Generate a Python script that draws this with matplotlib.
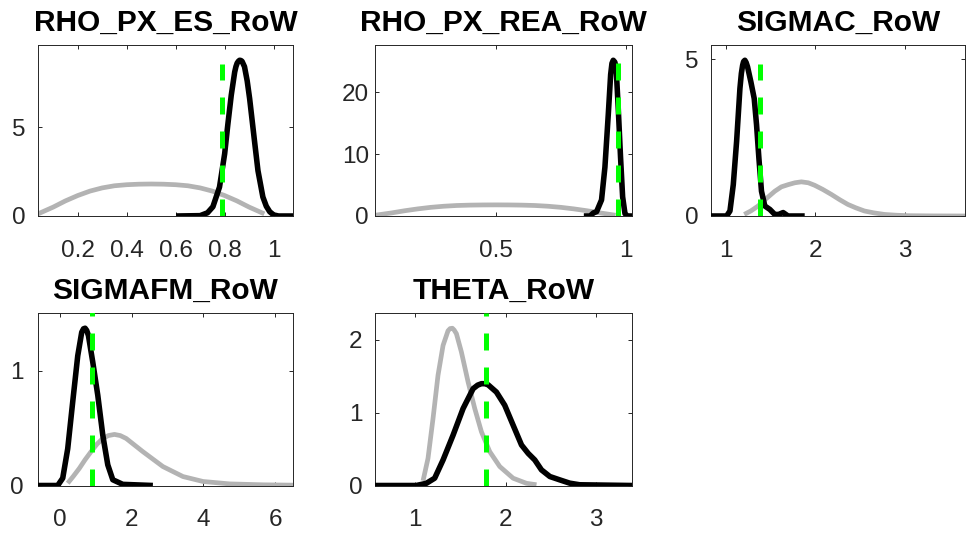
import matplotlib
matplotlib.use("Agg")
import matplotlib.pyplot as plt

plt.rcParams["font.family"] = ["Liberation Sans", "DejaVu Sans"]

# ---- data ----
titles = ["RHO_PX_ES_RoW", "RHO_PX_REA_RoW", "SIGMAC_RoW", "SIGMAFM_RoW", "THETA_RoW"]

# RHO_PX_ES_RoW
es_prior_x = [0.038, 0.1, 0.15, 0.2, 0.25, 0.3, 0.35, 0.4, 0.45, 0.5, 0.55, 0.6,
              0.65, 0.7, 0.75, 0.8, 0.85, 0.9, 0.962]
es_prior_y = [0.12, 0.50, 0.85, 1.15, 1.40, 1.58, 1.70, 1.76, 1.79, 1.80, 1.79, 1.76,
              1.70, 1.58, 1.40, 1.15, 0.85, 0.50, 0.12]
es_post_x = [0.602, 0.70, 0.73, 0.752, 0.779, 0.80, 0.813, 0.827, 0.841, 0.846, 0.851,
             0.856, 0.861, 0.866, 0.871, 0.881, 0.892, 0.902, 0.912, 0.922, 0.936,
             0.956, 0.970, 0.984, 1.0, 1.02, 1.079]
es_post_y = [0.0, 0.02, 0.18, 0.52, 1.63, 3.5, 5.15, 6.8, 8.1, 8.4, 8.6, 8.7, 8.76,
             8.75, 8.7, 8.4, 7.6, 6.6, 5.4, 4.2, 2.55, 1.07, 0.55, 0.24, 0.06, 0.0, 0.0]
es_mode = 0.789
es_mode_top = 8.57

# RHO_PX_REA_RoW
rea_prior_x = [0.036, 0.1, 0.15, 0.2, 0.25, 0.3, 0.35, 0.4, 0.45, 0.5, 0.55, 0.6,
               0.65, 0.7, 0.75, 0.8, 0.85, 0.9, 0.96]
rea_prior_y = [0.12, 0.50, 0.85, 1.15, 1.40, 1.58, 1.70, 1.76, 1.79, 1.80, 1.79, 1.76,
               1.70, 1.58, 1.40, 1.15, 0.85, 0.50, 0.12]
rea_post_x = [0.838, 0.862, 0.875, 0.887, 0.906, 0.919, 0.932, 0.941, 0.946, 0.951,
              0.957, 0.962, 0.97, 0.979, 0.987, 0.996, 1.005, 1.023]
rea_post_y = [0.0, 0.0, 0.5, 0.7, 2.6, 7.9, 16.5, 22.9, 24.7, 25.2, 24.9, 24.0, 17.6,
              9.5, 3.1, 0.4, 0.0, 0.0]
rea_mode = 0.968
rea_mode_top = 24.8

# SIGMAC_RoW
sc_prior_x = [1.207, 1.28, 1.362, 1.45, 1.547, 1.62, 1.695, 1.77, 1.843, 1.92, 1.991,
              2.08, 2.176, 2.27, 2.36, 2.45, 2.545, 2.65, 2.767, 2.9, 3.03, 3.3, 3.67]
sc_prior_y = [0.05, 0.16, 0.32, 0.55, 0.79, 0.93, 1.0, 1.06, 1.09, 1.06, 0.98, 0.85,
              0.69, 0.52, 0.37, 0.26, 0.16, 0.10, 0.05, 0.025, 0.01, 0.003, 0.0]
sc_post_x = [0.837, 1.011, 1.048, 1.085, 1.122, 1.159, 1.175, 1.189, 1.20, 1.214,
             1.228, 1.244, 1.281, 1.318, 1.344, 1.37, 1.399, 1.436, 1.492, 1.547, 1.59,
             1.64, 1.695, 1.88]
sc_post_y = [0.0, 0.0, 0.16, 1.0, 2.38, 4.07, 4.55, 4.81, 4.93, 4.97, 4.9, 4.76, 4.28,
             3.75, 2.91, 1.85, 0.79, 0.32, 0.21, 0.05, 0.05, 0.11, 0.0, 0.0]
sc_mode = 1.381
sc_mode_top = 4.86

# SIGMAFM_RoW
sf_prior_x = [0.214, 0.37, 0.54, 0.7, 0.866, 1.03, 1.192, 1.35, 1.518, 1.68, 1.844,
              2.31, 2.87, 3.43, 3.99, 4.73, 5.66, 6.5]
sf_prior_y = [0.02, 0.08, 0.15, 0.225, 0.295, 0.36, 0.41, 0.435, 0.445, 0.435, 0.41,
              0.295, 0.165, 0.078, 0.035, 0.014, 0.006, 0.003]
sf_post_x = [-0.615, -0.065, 0.075, 0.214, 0.354, 0.494, 0.605, 0.655, 0.699, 0.745,
             0.792, 0.913, 1.053, 1.192, 1.332, 1.472, 1.75, 2.59]
sf_post_y = [0.0, 0.0, 0.064, 0.32, 0.73, 1.13, 1.335, 1.365, 1.37, 1.35, 1.306, 1.075,
             0.786, 0.44, 0.18, 0.05, 0.01, 0.0]
sf_mode = 0.894
sf_mode_top = 1.51

# THETA_RoW
th_prior_x = [1.085, 1.14, 1.196, 1.251, 1.307, 1.362, 1.385, 1.41, 1.43, 1.455, 1.51,
              1.584, 1.658, 1.732, 1.824, 1.935, 2.083, 2.231, 2.342]
th_prior_y = [0.064, 0.37, 0.92, 1.51, 1.92, 2.12, 2.15, 2.155, 2.13, 2.08, 1.83, 1.42,
              1.055, 0.736, 0.464, 0.26, 0.10, 0.03, 0.01]
th_post_x = [0.553, 1.01, 1.122, 1.214, 1.307, 1.418, 1.529, 1.64, 1.69, 1.732, 1.77,
             1.806, 1.898, 1.99, 2.083, 2.176, 2.25, 2.323, 2.397, 2.49, 2.6, 2.71, 2.82,
             3.40]
th_post_y = [0.0, 0.0, 0.03, 0.10, 0.35, 0.69, 1.055, 1.327, 1.375, 1.395, 1.395, 1.38,
             1.28, 1.10, 0.827, 0.555, 0.44, 0.35, 0.214, 0.123, 0.077, 0.032, 0.01, 0.0]
th_mode = 1.78
th_mode_top = 2.37

xticks = [[0.2, 0.4, 0.6, 0.8, 1], [0.5, 1], [1, 2, 3], [0, 2, 4, 6], [1, 2, 3]]
xticklabels = [["0.2", "0.4", "0.6", "0.8", "1"], ["0.5", "1"], ["1", "2", "3"],
               ["0", "2", "4", "6"], ["1", "2", "3"]]
yticks = [[0, 5], [0, 10, 20], [0, 5], [0, 1], [0, 1, 2]]

priors = [(es_prior_x, es_prior_y), (rea_prior_x, rea_prior_y), (sc_prior_x, sc_prior_y),
          (sf_prior_x, sf_prior_y), (th_prior_x, th_prior_y)]
posts = [(es_post_x, es_post_y), (rea_post_x, rea_post_y), (sc_post_x, sc_post_y),
         (sf_post_x, sf_post_y), (th_post_x, th_post_y)]
modes = [(es_mode, es_mode_top), (rea_mode, rea_mode_top), (sc_mode, sc_mode_top),
         (sf_mode, sf_mode_top), (th_mode, th_mode_top)]

# axes boxes in pixels: left, right, top, bottom
W, H = 966, 535
boxes = [(38, 293, 44.7, 216), (375, 632, 44.7, 216), (711, 965.5, 44.7, 216),
         (38, 293, 312.5, 485.5), (375, 632, 312.5, 485.5)]
ypads = [9, 4.5, 9, 10, 9]

fig = plt.figure(figsize=(W / 100, H / 100), dpi=100)
tick_color = "#262626"

for i in range(5):
    l, r, t, b = boxes[i]
    ax = fig.add_axes([l / W, 1 - b / H, (r - l) / W, (b - t) / H])
    px, py = priors[i]
    qx, qy = posts[i]
    ax.plot(px, py, color="#b3b3b3", lw=3.4, solid_joinstyle="round",
            solid_capstyle="butt", zorder=2)
    ax.plot(qx, qy, color="black", lw=4.0, solid_joinstyle="round",
            solid_capstyle="butt", zorder=3)
    m, top = modes[i]
    ax.plot([m, m], [0, top], color="#00ff00", lw=3.6, dashes=(3.4, 3.4), zorder=4)

    ax.set_xlim(min(min(px), min(qx)), max(max(px), max(qx)))
    ax.set_ylim(0, 1.1 * max(max(py), max(qy)))
    ax.set_xticks(xticks[i])
    ax.set_xticklabels(xticklabels[i])
    ax.set_yticks(yticks[i])
    ax.tick_params(axis="both", direction="in", top=True, right=True, length=3.2,
                   width=0.7, colors=tick_color, labelsize=17.5)
    ax.tick_params(axis="x", pad=17)
    ax.tick_params(axis="y", pad=ypads[i])
    for sp in ax.spines.values():
        sp.set_color(tick_color)
        sp.set_linewidth(0.7)
    ax.set_title(titles[i], fontsize=21.5, fontweight="bold", pad=10)

fig.savefig("out.png", dpi=100)
